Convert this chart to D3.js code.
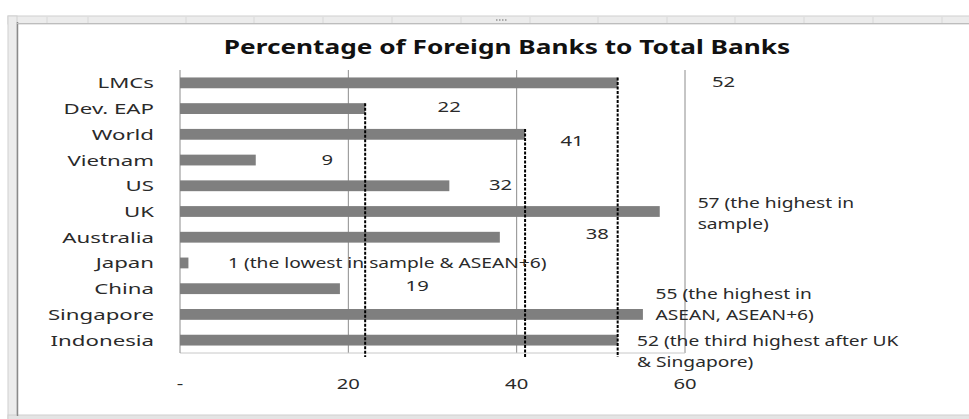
<!DOCTYPE html>
<html>
<head>
<meta charset="utf-8">
<script src="https://cdn.jsdelivr.net/npm/d3@7"></script>
<style>
  html, body { margin: 0; padding: 0; background: #fff; }
  svg { display: block; }
  text { font-family: "Noto Sans", "DejaVu Sans", sans-serif; fill: #2a2a2a; }
</style>
</head>
<body>
<div id="chart"></div>
<script>
// data
var categories = ["LMCs", "Dev. EAP", "World", "Vietnam", "US", "UK", "Australia", "Japan", "China", "Singapore", "Indonesia"];
var values = [52, 22, 41, 9, 32, 57, 38, 1, 19, 55, 52];
var labelTexts = [
  ["52"],
  ["22"],
  ["41"],
  ["9"],
  ["32"],
  ["57 (the highest in", "sample)"],
  ["38"],
  ["1 (the lowest in sample & ASEAN+6)"],
  ["19"],
  ["55 (the highest in", "ASEAN, ASEAN+6)"],
  ["52 (the third highest after UK", "& Singapore)"]
];
var tickValues = [0, 20, 40, 60];
var tickLabels = ["-", "20", "40", "60"];
// categories that get a dashed reference line down from the bar end
var refLines = ["Dev. EAP", "World", "LMCs"];

// manual label placement, as moved by hand in the source chart (value units / px)
var labelNudge = [
  {x: 63.2, dy: -1}, {x: 30.6, dy: -2}, {x: 45.2, dy: 7}, {x: 16.8, dy: 0},
  {x: 36.7, dy: -1}, {x: 61.5, dy: -9}, {x: 48.2, dy: -3}, {x: 5.7, dy: 0},
  {x: 26.8, dy: -3}, {x: 56.5, dy: -20}, {x: 54.3, dy: 1}
];

var W = 969, H = 419;
var svg = d3.select("#chart").append("svg").attr("width", W).attr("height", H);

// stretch text horizontally like the squashed screenshot
function stretch(sel, k) {
  sel.each(function () {
    var w = this.getComputedTextLength();
    d3.select(this).attr("textLength", w * k).attr("lengthAdjust", "spacingAndGlyphs");
  });
}

// ---- excel style frame ----
var frame = svg.append("g");
frame.append("rect").attr("x", 8).attr("y", 16).attr("width", W).attr("height", 8)
  .attr("fill", "#ececec").attr("stroke", "#d0d0d0");
frame.append("rect").attr("x", 8).attr("y", 16).attr("width", 9).attr("height", H)
  .attr("fill", "#ececec").attr("stroke", "#d0d0d0");
frame.append("rect").attr("x", 8).attr("y", 415).attr("width", W).attr("height", 6)
  .attr("fill", "#e4e4e4").attr("stroke", "#d0d0d0");
[47, 88, 186, 254, 323, 392, 461, 530, 598, 667, 735, 804, 873, 942].forEach(function (x) {
  frame.append("line").attr("x1", x).attr("x2", x).attr("y1", 17).attr("y2", 23)
    .attr("stroke", "#d8d8d8");
});
[496, 499, 502, 505].forEach(function (x) {
  frame.append("rect").attr("x", x).attr("y", 19).attr("width", 1.5).attr("height", 2).attr("fill", "#aaa");
});
frame.append("line").attr("x1", 17.5).attr("x2", 17.5).attr("y1", 22).attr("y2", 416)
  .attr("stroke", "#8a8a8a").attr("stroke-width", 1.5);
frame.append("line").attr("x1", 17).attr("x2", W).attr("y1", 23.5).attr("y2", 23.5)
  .attr("stroke", "#bdbdbd");

// ---- title ----
var title = svg.append("text")
  .attr("x", 507).attr("y", 54)
  .attr("text-anchor", "middle")
  .attr("font-size", 20).attr("font-weight", "bold")
  .style("fill", "#111")
  .text("Percentage of Foreign Banks to Total Banks");
stretch(title, 1.31);

// ---- plot ----
var plot = {left: 180, right: 685, top: 70, bottom: 353};

var x = d3.scaleLinear().domain([0, 60]).range([plot.left, plot.right]);
var y = d3.scaleBand().domain(categories).range([plot.top, plot.bottom]).paddingInner(0.58).paddingOuter(0.29);

var g = svg.append("g");

// gridlines
g.selectAll(".grid").data(tickValues.slice(1)).enter().append("line")
  .attr("x1", function (d) { return x(d); }).attr("x2", function (d) { return x(d); })
  .attr("y1", plot.top).attr("y2", plot.bottom)
  .attr("stroke", "#8c8c8c").attr("stroke-width", 1);

// plot border bottom + left axis
g.append("line").attr("x1", plot.left).attr("x2", plot.right).attr("y1", plot.bottom).attr("y2", plot.bottom)
  .attr("stroke", "#c8c8c8");
g.append("line").attr("x1", plot.left).attr("x2", plot.left).attr("y1", plot.top).attr("y2", plot.bottom)
  .attr("stroke", "#8c8c8c");

// bars
g.selectAll(".bar").data(categories).enter().append("rect")
  .attr("x", plot.left)
  .attr("y", function (d) { return y(d); })
  .attr("width", function (d, i) { return x(values[i]) - plot.left; })
  .attr("height", y.bandwidth())
  .attr("fill", "#7f7f7f");

// dashed reference lines
g.selectAll(".ref").data(refLines).enter().append("line")
  .attr("x1", function (d) { return x(values[categories.indexOf(d)]); })
  .attr("x2", function (d) { return x(values[categories.indexOf(d)]); })
  .attr("y1", function (d) { return y(d); })
  .attr("y2", plot.bottom + 4)
  .attr("stroke", "#000").attr("stroke-width", 2).attr("stroke-dasharray", "3,1.5");

// category labels
var cat = svg.selectAll(".cat").data(categories).enter().append("text")
  .attr("x", 154)
  .attr("y", function (d) { return y(d) + y.bandwidth() / 2 + 5.5; })
  .attr("text-anchor", "end")
  .attr("font-size", 15)
  .text(function (d) { return d; });
stretch(cat, 1.48);

// x tick labels
var ticks = svg.selectAll(".tick").data(tickValues).enter().append("text")
  .attr("x", function (d) { return x(d); })
  .attr("y", 389)
  .attr("text-anchor", "middle")
  .attr("font-size", 15)
  .text(function (d, i) { return tickLabels[i]; });
stretch(ticks, 1.35);

// data labels
categories.forEach(function (c, i) {
  var lines = labelTexts[i];
  var cy = y(c) + y.bandwidth() / 2 + labelNudge[i].dy;
  var long = lines.length > 1 || lines[0].length > 3;
  lines.forEach(function (t, j) {
    var lab = svg.append("text")
      .attr("x", x(labelNudge[i].x))
      .attr("y", cy + 5 + j * 21)
      .attr("font-size", long ? 13.5 : 15)
      .text(t);
    stretch(lab, long ? 1.42 : 1.35);
  });
});
</script>
</body>
</html>
